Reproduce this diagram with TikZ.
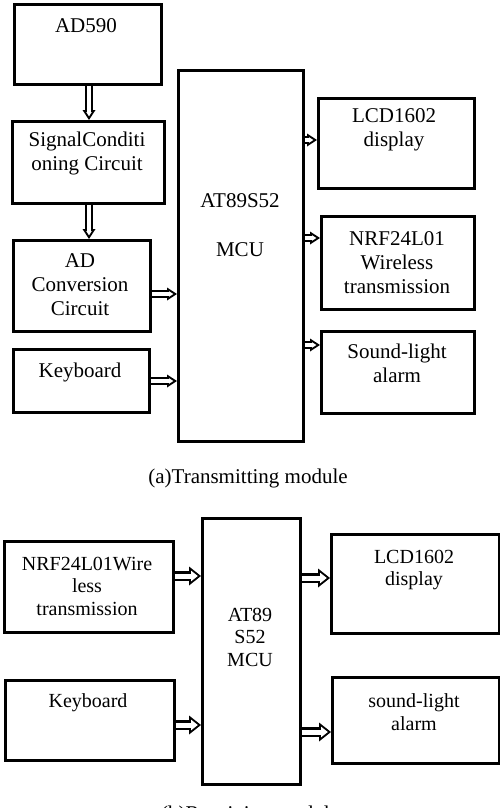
\documentclass[tikz,border=0pt]{standalone}
\usepackage{fontspec}
\setmainfont{Liberation Serif}
\usetikzlibrary{arrows.meta}
\begin{document}
\begin{tikzpicture}[x=1pt,y=-1pt,
  box/.style={draw, line width=2.8pt, inner sep=0pt, anchor=north west},
  lbl/.style={font=\fontsize{21}{24}\selectfont, align=center, inner sep=0pt},
  lblb/.style={font=\fontsize{20}{22.5}\selectfont, align=center, inner sep=0pt},
  conn/.style={line width=7.5pt, -{Triangle[length=10pt,width=13pt,line width=0pt]},
    postaction={draw=white, line width=3.3pt, shorten >=3.7pt,
      -{Triangle[length=4.3pt,width=5.6pt,line width=0pt]}}},
  connb/.style={line width=10pt, -{Triangle[length=12pt,width=19pt,line width=0pt]},
    postaction={draw=white, line width=5pt, shorten >=3.2pt,
      -{Triangle[length=6.8pt,width=10.8pt,line width=0pt]}}}
]
\useasboundingbox (0,0) rectangle (500,808);
\clip (0,0) rectangle (500,808);
% ---------- (a) Transmitting module ----------
\node[box, minimum width=147pt, minimum height=80pt] (ad590) at (13,3) {};
\node[box, minimum width=152pt, minimum height=82pt] (sig) at (11,120) {};
\node[box, minimum width=137pt, minimum height=91pt] (adc) at (12,239) {};
\node[box, minimum width=136pt, minimum height=63pt] (kb) at (12,348) {};
\node[box, minimum width=125pt, minimum height=371pt] (mcu) at (177,69) {};
\node[box, minimum width=156pt, minimum height=90pt] (lcd) at (317,97) {};
\node[box, minimum width=153pt, minimum height=93pt] (nrf) at (320,215) {};
\node[box, minimum width=153pt, minimum height=82pt] (snd) at (320,330) {};

\node[lbl] (tad590) at (86,26) {AD590};
\node[lbl] (tsig) at (87,153) {SignalConditi\\oning Circuit};
\node[lbl] (tadc) at (80,285) {AD\\Conversion\\Circuit};
\node[lbl] (tkb) at (80,372) {Keyboard};
\node[lbl] (tmcu1) at (240,201) {AT89S52};
\node[lbl] (tmcu2) at (240,250) {MCU};
\node[lbl] (tlcd) at (394,130) {LCD1602\\display};
\node[lbl] (tnrf) at (397,263) {NRF24L01\\Wireless\\transmission};
\node[lbl] (tsnd) at (397,363) {Sound-light\\alarm};
\node[lbl] (capa) at (248,478) {(a)Transmitting module};

\coordinate (y1) at (0,294);
\coordinate (y2) at (0,381);
\coordinate (y3) at (0,140);
\coordinate (y4) at (0,238);
\coordinate (y5) at (0,345);
\coordinate (xv) at (89,0);
\draw[conn] (ad590.south -| xv) -- (sig.north -| xv);
\draw[conn] (sig.south -| xv) -- (adc.north -| xv);
\draw[conn] (adc.east |- y1) -- (mcu.west |- y1);
\draw[conn] (kb.east |- y2) -- (mcu.west |- y2);
\draw[conn] (mcu.east |- y3) -- (lcd.west |- y3);
\draw[conn] (mcu.east |- y4) -- (nrf.west |- y4);
\draw[conn] (mcu.east |- y5) -- (snd.west |- y5);

% ---------- (b) Receiving module ----------
\node[box, minimum width=98pt, minimum height=266pt] (mcub) at (201,517) {};
\node[box, minimum width=169pt, minimum height=91pt] (nrfb) at (3,540) {};
\node[box, minimum width=169pt, minimum height=80pt] (kbb) at (4,679) {};
\node[box, minimum width=168pt, minimum height=99pt] (lcdb) at (330,533) {};
\node[box, minimum width=167pt, minimum height=86pt] (sndb) at (331,676) {};

\node[lblb] (tnrfb) at (87,586) {NRF24L01Wire\\less\\transmission};
\node[lblb] (tkbb) at (88,703) {Keyboard};
\node[lblb] (tmcub) at (250,637) {AT89\\S52\\MCU};
\node[lblb] (tlcdb) at (414,570) {LCD1602\\display};
\node[lblb] (tsndb) at (414,712) {sound-light\\alarm};
\node[lbl] (capb) at (250,815) {(b)Receiving module};

\coordinate (z1) at (0,576);
\coordinate (z2) at (0,725);
\coordinate (z3) at (0,578);
\coordinate (z4) at (0,732);
\draw[connb] (nrfb.east |- z1) -- (mcub.west |- z1);
\draw[connb] (kbb.east |- z2) -- (mcub.west |- z2);
\draw[connb] (mcub.east |- z3) -- (lcdb.west |- z3);
\draw[connb] (mcub.east |- z4) -- (sndb.west |- z4);
\end{tikzpicture}
\end{document}
